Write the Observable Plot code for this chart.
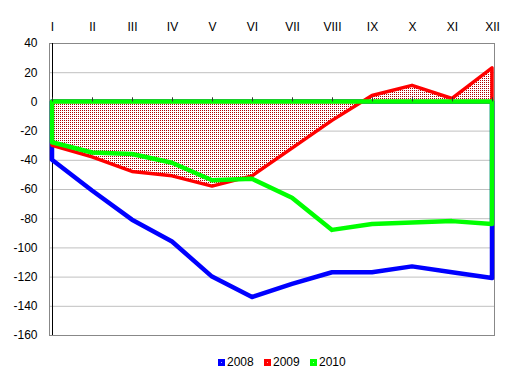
<!DOCTYPE html>
<html>
<head>
<meta charset="utf-8">
<script src="https://cdn.jsdelivr.net/npm/d3@7"></script>
<script src="https://cdn.jsdelivr.net/npm/@observablehq/plot@0.6"></script>
<style>
  html, body { margin: 0; padding: 0; background: #fff; }
  body { width: 514px; height: 383px; overflow: hidden; font-family: "Liberation Sans", Arial, sans-serif; }
  #legend { position: relative; height: 38px; font-size: 12px; color: #000; }
  .item { position: absolute; top: 10px; display: flex; align-items: center; }
  .sw { width: 7px; height: 7px; margin-right: 2px; position: relative; }
  .sw::after { content: ""; position: absolute; left: 3px; top: 3px; width: 1px; height: 1px; background: rgba(255,255,255,0.7); }
</style>
</head>
<body>
<div id="chart"></div>
<div id="legend"></div>
<script>
const months = ["I","II","III","IV","V","VI","VII","VIII","IX","X","XI","XII"];
const v2008 = [-40, -61, -81, -96, -120, -134, -125, -117, -117, -113, -117, -121];
const v2009 = [-30, -38, -48, -51, -58, -51, -32, -13, 4, 11, 2, 23];
const v2010 = [-28, -35, -36, -42, -54, -53, -66, -88, -84, -83, -82, -84];
const seriesNames = ["2008", "2009", "2010"];
const seriesColors = ["#0000ff", "#ff0000", "#00ff00"];
const yTicks = [-160, -140, -120, -100, -80, -60, -40, -20, 0, 20, 40];

const rows = (vals) => months.map((m, i) => ({month: m, value: vals[i]}));

const plot = Plot.plot({
  width: 514,
  height: 345,
  marginLeft: 49,
  marginRight: 20,
  marginTop: 43,
  marginBottom: 10,
  style: {fontFamily: "'Liberation Sans', Arial, sans-serif", fontSize: "12px", background: "#fff", color: "#000"},
  x: {type: "point", domain: months, padding: 0, axis: null, label: null},
  y: {domain: [-160, 40], ticks: yTicks, axis: null, label: null},
  marks: [
    Plot.gridY(yTicks.filter(t => t > -160 && t < 40), {stroke: "#c0c0c0", strokeOpacity: 1, strokeWidth: 1}),
    Plot.frame({stroke: "#888", strokeWidth: 1}),
    Plot.ruleX([months[0]], {stroke: "#000", strokeWidth: 1}),
    Plot.axisY({ticks: yTicks, tickSize: 0, tickPadding: 12, fontSize: 12, anchor: "left", label: null, tickFormat: d => String(d)}),
    Plot.axisX({anchor: "top", tickSize: 0, tickPadding: 13, fontSize: 12, label: null}),
    Plot.areaY(rows(v2008), {x: "month", y1: 0, y2: "value", fill: "none", stroke: seriesColors[0], strokeWidth: 4.5, strokeLinejoin: "round", curve: "linear"}),
    Plot.areaY(rows(v2009), {x: "month", y1: 0, y2: "value", fill: "url(#dots)", stroke: seriesColors[1], strokeWidth: 3.5, strokeLinejoin: "round", curve: "linear"}),
    Plot.areaY(rows(v2010), {x: "month", y1: 0, y2: "value", fill: "none", stroke: seriesColors[2], strokeWidth: 4.5, strokeLinejoin: "round", curve: "linear"}),
    Plot.ruleX(months, {x: d => d, y1: 0, y2: 2.8, stroke: "#333", strokeWidth: 1})
  ]
});

// dotted pattern definition
const defs = d3.select(plot).insert("defs", ":first-child");
const pat = defs.append("pattern").attr("id", "dots").attr("patternUnits", "userSpaceOnUse")
  .attr("width", 2).attr("height", 2);
pat.append("rect").attr("width", 2).attr("height", 2).attr("fill", "#fff");
pat.append("rect").attr("width", 1).attr("height", 1).attr("fill", "#b00000");

document.getElementById("chart").appendChild(plot);

const legend = document.getElementById("legend");
const lefts = [218, 264, 310];
seriesNames.forEach((name, i) => {
  const it = document.createElement("div");
  it.className = "item";
  it.style.left = lefts[i] + "px";
  const sw = document.createElement("span");
  sw.className = "sw";
  sw.style.background = seriesColors[i];
  const tx = document.createElement("span");
  tx.textContent = name;
  it.appendChild(sw);
  it.appendChild(tx);
  legend.appendChild(it);
});
</script>
</body>
</html>
